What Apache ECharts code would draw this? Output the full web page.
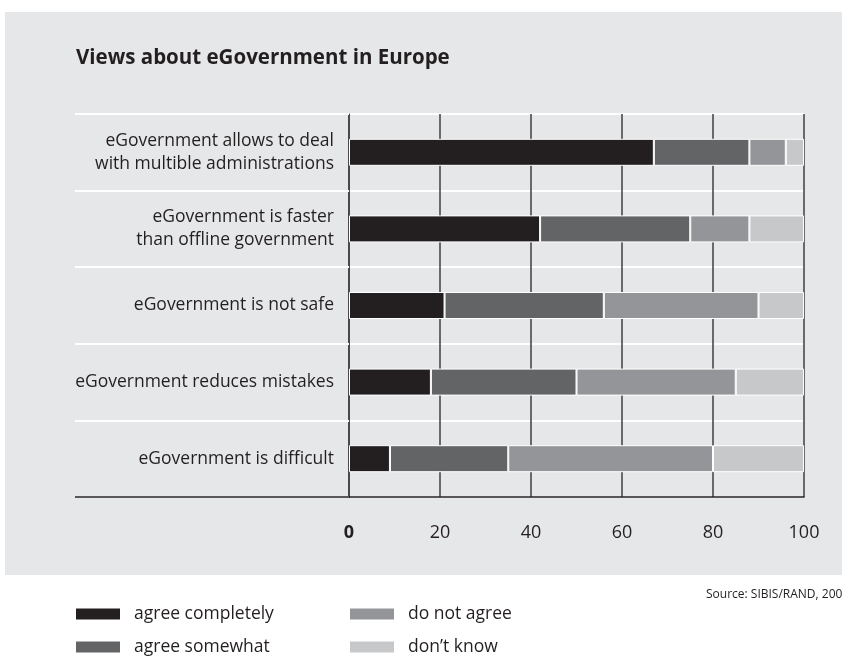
<!DOCTYPE html>
<html>
<head>
<meta charset="utf-8">
<script src="https://cdn.jsdelivr.net/npm/echarts@6/dist/echarts.min.js"></script>
<style>
html,body{margin:0;padding:0;background:#fff;}
#chart{width:842px;height:657px;}
</style>
</head>
<body>
<div id="chart"></div>
<script>
// categories, top to bottom
const categories = [
    "eGovernment allows to deal\nwith multible administrations",
    "eGovernment is faster\nthan offline government",
    "eGovernment is not safe",
    "eGovernment reduces mistakes",
    "eGovernment is difficult"
];
const agreeCompletely = [67, 42, 21, 18, 9];
const agreeSomewhat = [21, 33, 35, 32, 26];
const doNotAgree = [8, 13, 34, 35, 45];
const dontKnow = [4, 12, 10, 15, 20];
const xTicks = [0, 20, 40, 60, 80, 100];

const names = ["agree completely", "agree somewhat", "do not agree", "don\u2019t know"];
const colors = ["#231f20", "#636466", "#939598", "#c7c8ca"];
const values = [agreeCompletely, agreeSomewhat, doNotAgree, dontKnow];

const font = "'Open Sans', 'Noto Sans', sans-serif";
let chart = echarts.init(document.getElementById("chart"));

//legend style shared by both columns
function legendCol(data, left){
    return {
        data: data,
        orient: "vertical",
        left: left,
        top: 604,
        padding: 0,
        icon: "rect",
        itemWidth: 46,
        itemHeight: 13,
        itemGap: 13,
        textStyle: {fontSize: 17.5, lineHeight: 20, padding: [0, 0, 0, 8], color: "#231f20", fontFamily: font},
        selectedMode: false
    };
}

chart.setOption({
    backgroundColor: "#fff",
    textStyle: {fontFamily: font},
    title: {
        text: "Views about eGovernment in Europe",
        left: 71,
        top: 43,
        textStyle: {fontSize: 20.5, fontWeight: "bold", color: "#231f20", fontFamily: font}
    },
    legend: [legendCol(names.slice(0, 2), 74), legendCol(names.slice(2), 348)],
    grid: {left: 349, right: 38, top: 114, bottom: 160},
    xAxis: {
        type: "value",
        min: 0,
        max: 100,
        interval: 20,
        axisLine: {show: true, lineStyle: {color: "#231f20", width: 1.5}},
        axisTick: {show: false},
        splitLine: {show: true, lineStyle: {color: "#3f3f41", width: 1.5}},
        axisLabel: {
            margin: 27,
            fontSize: 18,
            color: "#231f20",
            formatter: function (v) {
                return v === xTicks[0] ? "{b|" + v + "}" : String(v);
            },
            rich: {b: {fontWeight: "bold", fontSize: 18, color: "#231f20"}}
        }
    },
    yAxis: {
        type: "category",
        inverse: true,
        data: categories,
        axisLine: {show: true, lineStyle: {color: "#3f3f41", width: 1.5}},
        axisTick: {show: true, length: 274, lineStyle: {color: "#ffffff", width: 2}},
        splitLine: {show: true, lineStyle: {color: "#ffffff", width: 2}},
        axisLabel: {
            margin: 15,
            fontSize: 17.5,
            lineHeight: 23,
            color: "#231f20",
            align: "right"
        }
    },
    series: values.map(function (d, i) {
        return {
            name: names[i],
            type: "bar",
            stack: "all",
            barWidth: 27,
            data: d,
            itemStyle: {color: colors[i], borderColor: "#ffffff", borderWidth: 1},
            emphasis: {disabled: true}
        };
    }),
    graphic: [
        {
            type: "rect",
            z: -10,
            silent: true,
            shape: {x: 5, y: 12, width: 837, height: 563},
            style: {fill: "#e6e7e8"}
        },
        {
            type: "line",
            z: 10,
            silent: true,
            shape: {x1: 75, y1: 497, x2: 350, y2: 497},
            style: {stroke: "#231f20", lineWidth: 1.5}
        },
        {
            type: "text",
            left: 706,
            top: 589,
            silent: true,
            style: {text: "Source: SIBIS/RAND, 2003", fontSize: 12, fill: "#231f20", fontFamily: font}
        }
    ]
});
</script>
</body>
</html>
